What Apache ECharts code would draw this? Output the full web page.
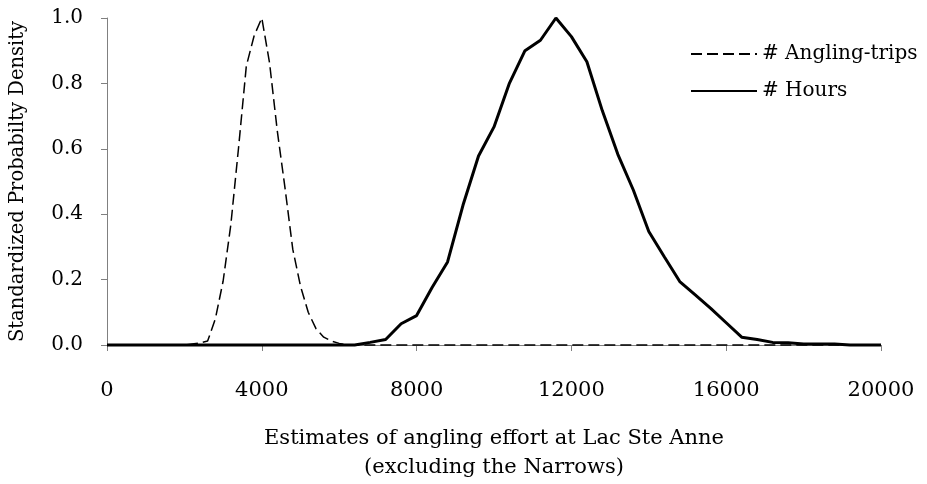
<!DOCTYPE html>
<html>
<head>
<meta charset="utf-8">
<script src="https://cdn.jsdelivr.net/npm/echarts@6/dist/echarts.min.js"></script>
<style>
  html, body { margin: 0; padding: 0; background: #fff; }
  #chart { width: 927px; height: 484px; }
</style>
</head>
<body>
<div id="chart"></div>
<script>
// Effort estimates (x) and standardized density (y) for each measure
const tripsX = [0, 2000, 2200, 2400, 2600, 2800, 3000, 3200, 3400, 3600, 3800, 4000,
  4200, 4400, 4600, 4800, 5000, 5200, 5400, 5600, 5800, 6000, 6200, 20000];
const tripsY = [0, 0, 0.003, 0.006, 0.012, 0.08, 0.195, 0.368, 0.604, 0.853, 0.945, 1.0,
  0.863, 0.655, 0.48, 0.293, 0.18, 0.1, 0.05, 0.024, 0.012, 0.005, 0, 0];

const hoursX = [0, 6000, 6400, 6800, 7200, 7600, 8000, 8400, 8800, 9200, 9600, 10000,
  10400, 10800, 11200, 11600, 12000, 12400, 12800, 13200, 13600, 14000, 14400,
  14800, 15200, 15600, 16000, 16400, 16800, 17200, 17600, 18000, 18400, 18800,
  19200, 20000];
const hoursY = [0, 0, 0, 0.008, 0.017, 0.065, 0.09, 0.176, 0.254, 0.428, 0.578, 0.667,
  0.801, 0.9, 0.932, 1.0, 0.943, 0.866, 0.716, 0.583, 0.474, 0.347, 0.27,
  0.194, 0.153, 0.112, 0.068, 0.024, 0.017, 0.008, 0.007, 0.003, 0.003, 0.003,
  0, 0];

const xTicks = [0, 4000, 8000, 12000, 16000, 20000];
const yTicks = [0, 0.2, 0.4, 0.6, 0.8, 1.0];

const seriesNames = ['# Angling-trips', '# Hours'];
const xTitle = 'Estimates of angling effort at Lac Ste Anne\n(excluding the Narrows)';
const yTitle = 'Standardized Probabilty Density';

const FONT = 'DejaVu Serif';
const AXIS_GREY = '#808080';

const pairs = (xs, ys) => xs.map((x, i) => [x, ys[i]]);

const chart = echarts.init(document.getElementById('chart'), null, { renderer: 'canvas' });

chart.setOption({
  animation: false,
  backgroundColor: '#ffffff',
  textStyle: { fontFamily: FONT, color: '#000' },
  grid: {
    left: 107, right: 46, top: 18, bottom: 139,
    containLabel: false,
    outerBoundsMode: 'none'
  },
  legend: {
    orient: 'vertical',
    left: 690,
    top: 44,
    padding: 0,
    itemWidth: 66,
    itemHeight: 12,
    itemGap: 17,
    itemStyle: { opacity: 0 },
    textStyle: { fontFamily: FONT, fontSize: 20, color: '#000' },
    data: seriesNames
  },
  xAxis: {
    type: 'value',
    min: xTicks[0],
    max: xTicks[xTicks.length - 1],
    interval: xTicks[1] - xTicks[0],
    name: xTitle,
    nameLocation: 'middle',
    nameGap: 79,
    nameTextStyle: { fontFamily: FONT, fontSize: 21, color: '#000', lineHeight: 29 },
    axisLine: { show: true, lineStyle: { color: AXIS_GREY, width: 1 } },
    axisTick: { show: true, inside: false, length: 6, lineStyle: { color: AXIS_GREY } },
    axisLabel: {
      margin: 35, fontFamily: FONT, fontSize: 21, color: '#000',
      formatter: v => String(v)
    },
    splitLine: { show: false }
  },
  yAxis: {
    type: 'value',
    min: yTicks[0],
    max: yTicks[yTicks.length - 1],
    interval: 0.2,
    name: yTitle,
    nameLocation: 'middle',
    nameGap: 79,
    nameTextStyle: { fontFamily: FONT, fontSize: 19.5, color: '#000' },
    axisLine: { show: true, lineStyle: { color: AXIS_GREY, width: 1 } },
    axisTick: { show: true, inside: false, length: 6, lineStyle: { color: AXIS_GREY } },
    axisLabel: {
      margin: 24, fontFamily: FONT, fontSize: 20, color: '#000',
      formatter: v => v.toFixed(1)
    },
    splitLine: { show: false }
  },
  series: [
    {
      name: seriesNames[0],
      type: 'line',
      data: pairs(tripsX, tripsY),
      symbol: 'none',
      clip: false,
      z: 2,
      lineStyle: { color: '#000', width: 1.5, type: [11, 5] },
      itemStyle: { color: '#000' }
    },
    {
      name: seriesNames[1],
      type: 'line',
      data: pairs(hoursX, hoursY),
      symbol: 'none',
      clip: false,
      z: 3,
      lineStyle: { color: '#000', width: 3, type: 'solid' },
      itemStyle: { color: '#000' }
    }
  ]
});
</script>
</body>
</html>
